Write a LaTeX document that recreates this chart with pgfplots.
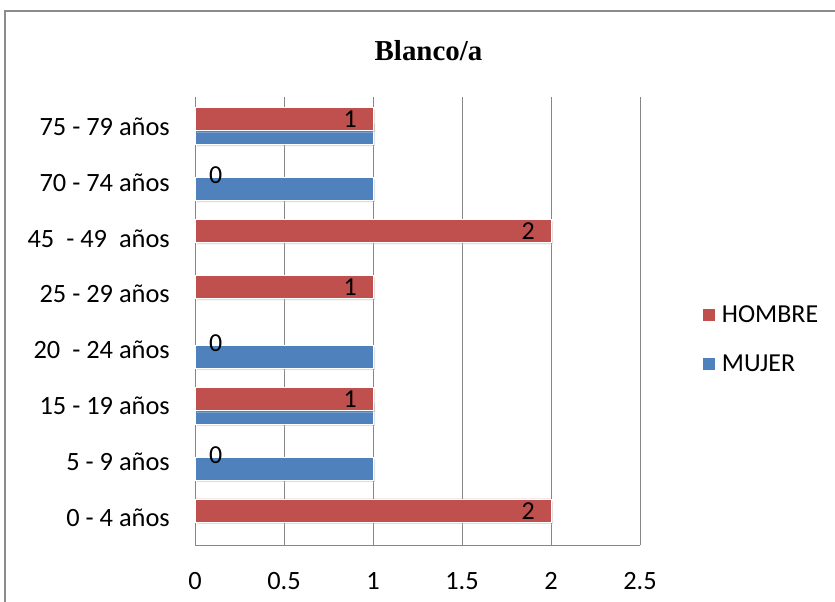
\documentclass[border=0pt]{standalone}
\usepackage{pgfplots}
\pgfplotsset{compat=1.18}
\usepackage{fontspec}
\setmainfont{Carlito}
\newfontfamily\titlefont{Liberation Serif}
\usetikzlibrary{shadows}
\definecolor{hred}{HTML}{C0504D}
\definecolor{mblue}{HTML}{4F81BD}
\definecolor{gridgray}{HTML}{868686}
\begin{document}
\begin{tikzpicture}
\path[use as bounding box] (0,0) rectangle (835bp,602bp);
\draw[color=gray!90, line width=1.2bp] (5bp,-2bp) -- (5bp,591bp) -- (837bp,591bp);
\node[font=\titlefont\bfseries\fontsize{29}{33}\selectfont] at (428.5bp,551bp) {Blanco/a};
\begin{axis}[
  at={(195bp,57bp)}, anchor=south west,
  scale only axis, width=445bp, height=448bp,
  xmin=0, xmax=2.5, ymin=-0.483, ymax=7.527,
  xtick={0,0.5,1,1.5,2,2.5},
  ytick={0,1,2,3,4,5,6,7},
  yticklabels={0 - 4 años, 5 - 9 años, 15 - 19 años, 20\ \ - 24 años, 25 - 29 años, 45\ \ - 49\ \ años, 70 - 74 años, 75 - 79 años},
  axis x line*=bottom, axis y line*=left,
  axis line style={gridgray, line width=1bp, -},
  xmajorgrids, major grid style={gridgray, line width=1bp},
  major tick length=0pt,
  tick label style={font=\fontsize{26.5}{30}\selectfont},
  xticklabel style={anchor=north, inner sep=0pt, yshift=-27bp},
  yticklabel style={anchor=east, inner sep=0pt, xshift=-25bp},
  /pgf/number format/assume math mode=true,
  /pgf/number format/fixed,
  legend cell align=left,
  legend style={at={(1.141,0.459)}, anchor=west, draw=none, fill=none, inner sep=0pt,
    font=\fontsize{26}{30}\selectfont, row sep=27bp, nodes={inner sep=2bp},
    /tikz/every odd column/.append style={column sep=5bp}},
]
\addplot[xbar, forget plot, bar width=23bp, bar shift=-6.5bp, fill=mblue, draw=white, line width=0.6bp,
  drop shadow={shadow xshift=2bp, shadow yshift=-2bp, opacity=0.25}]
  coordinates {(1,1) (1,2) (1,3) (1,6) (1,7)};
\addplot[xbar, forget plot, bar width=23bp, bar shift=7.5bp, fill=hred, draw=white, line width=0.6bp,
  drop shadow={shadow xshift=2bp, shadow yshift=-2bp, opacity=0.25},
  nodes near coords,
  every node near coord/.append style={anchor=east, xshift=-16bp, yshift=7bp, inner sep=0pt, text=black, font=\fontsize{26}{30}\selectfont}]
  coordinates {(2,0) (1,2) (1,4) (2,5) (1,7)};
\addplot[xbar, forget plot, bar width=23bp, bar shift=7.5bp, draw=none, fill=none,
  nodes near coords,
  every node near coord/.append style={anchor=west, xshift=14bp, yshift=7bp, inner sep=0pt, text=black, font=\fontsize{26}{30}\selectfont}]
  coordinates {(0,1) (0,3) (0,6)};
\addlegendimage{legend image code/.code={\fill[hred, draw=none] (0bp,-6bp) rectangle (12bp,6bp);}}
\addlegendentry{HOMBRE}
\addlegendimage{legend image code/.code={\fill[mblue, draw=none] (0bp,-6bp) rectangle (12bp,6bp);}}
\addlegendentry{MUJER}
\end{axis}
\end{tikzpicture}
\end{document}
